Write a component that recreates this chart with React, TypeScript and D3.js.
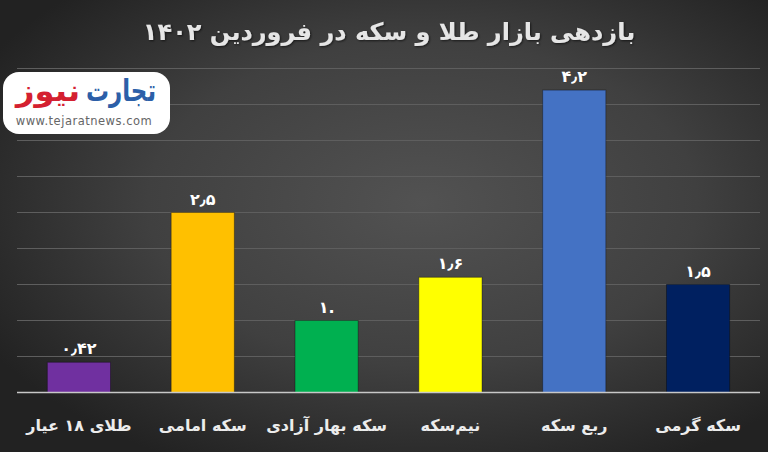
import React from "react";
import * as d3 from "d3";

const categories = ["طلای ۱۸ عیار", "سکه امامی", "سکه بهار آزادی", "نیم‌سکه", "ربع سکه", "سکه گرمی"];
const values = [0.42, 2.5, 1.0, 1.6, 4.2, 1.5];
const valueLabels = ["۰٫۴۲", "۲٫۵", "۱.", "۱٫۶", "۴٫۲", "۱٫۵"];
const colors = ["#7030A0", "#FFC000", "#00B050", "#FFFF00", "#4472C4", "#002060"];
const gridTicks = [0, 0.5, 1, 1.5, 2, 2.5, 3, 3.5, 4, 4.5];
const title = "بازدهی بازار طلا و سکه در فروردین ۱۴۰۲";

const W = 768;
const H = 452;
const FONT = "'DejaVu Sans', sans-serif";

export default function App() {
  const x = d3.scaleBand<string>().domain(categories).range([17, 760]).paddingInner(0.49).paddingOuter(0.245);
  const y = d3.scaleLinear().domain([0, 4.5]).range([392.5, 68.5]);

  return (
    <svg width={W} height={H} style={{ position: "absolute", left: 0, top: 0 }} xmlns="http://www.w3.org/2000/svg">
      <defs>
        <radialGradient id="bg" cx="0.55" cy="0.45" r="0.65">
          <stop offset="0" stopColor="#525252" />
          <stop offset="0.55" stopColor="#404040" />
          <stop offset="1" stopColor="#222222" />
        </radialGradient>
        <filter id="shadow" x="-10%" y="-10%" width="130%" height="130%">
          <feDropShadow dx="1" dy="1" stdDeviation="1" floodColor="#000" floodOpacity="0.6" />
        </filter>
      </defs>
      <rect x={0} y={0} width={W} height={H} fill="url(#bg)" />

      {gridTicks.slice(1).map((t) => (
        <line key={t} x1={17} x2={760} y1={y(t)} y2={y(t)} stroke="#5e5e5e" strokeWidth={1} />
      ))}

      {categories.map((c, i) => (
        <rect
          key={c}
          x={x(c)}
          y={y(values[i])}
          width={x.bandwidth()}
          height={y(0) - y(values[i])}
          fill={colors[i]}
          stroke="rgba(0,0,0,0.35)"
          strokeWidth={1}
        />
      ))}

      <line x1={17} x2={760} y1={y(0)} y2={y(0)} stroke="#c8c8c8" strokeWidth={1.5} />

      {categories.map((c, i) => (
        <text
          key={"v" + c}
          x={(x(c) as number) + x.bandwidth() / 2}
          y={y(values[i]) - 8}
          textAnchor="middle"
          fill="#ffffff"
          fontFamily={FONT}
          fontWeight="bold"
          fontSize={16}
          direction="ltr"
          style={{ unicodeBidi: "bidi-override" } as any}
        >
          {valueLabels[i]}
        </text>
      ))}

      {categories.map((c) => (
        <text
          key={"c" + c}
          x={(x(c) as number) + x.bandwidth() / 2}
          y={431}
          textAnchor="middle"
          fill="#ececec"
          fontFamily={FONT}
          fontWeight="bold"
          fontSize={16}
          direction="rtl"
        >
          {c}
        </text>
      ))}

      <text
        x={389}
        y={40}
        textAnchor="middle"
        fill="#e6e6e6"
        fontFamily={FONT}
        fontWeight="bold"
        fontSize={24}
        direction="rtl"
        filter="url(#shadow)"
      >
        {title}
      </text>

      <g>
        <rect x={3} y={72} width={167} height={62} rx={16} ry={16} fill="#ffffff" />
        <text
          x={121}
          y={101}
          textAnchor="middle"
          fontFamily={FONT}
          fontWeight="bold"
          fontSize={30}
          direction="rtl"
          fill="#2c5fa8"
          textLength={70}
          lengthAdjust="spacingAndGlyphs"
        >
          تجارت
        </text>
        <text
          x={48}
          y={101}
          textAnchor="middle"
          fontFamily={FONT}
          fontWeight="bold"
          fontSize={30}
          direction="rtl"
          fill="#d42030"
          textLength={64}
          lengthAdjust="spacingAndGlyphs"
        >
          نیوز
        </text>
        <text x={84} y={125} textAnchor="middle" fontFamily={FONT} fontSize={11.5} fill="#666666" letterSpacing={0.5}>
          www.tejaratnews.com
        </text>
      </g>
    </svg>
  );
}
